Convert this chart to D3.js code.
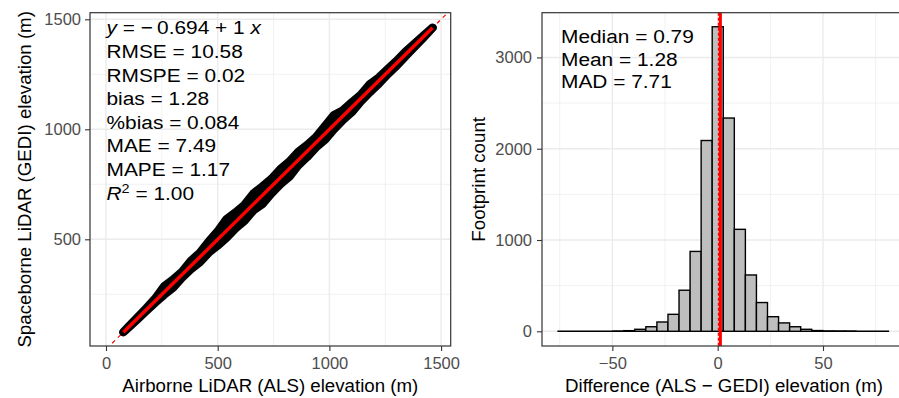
<!DOCTYPE html>
<html>
<head>
<meta charset="utf-8">
<script src="https://cdn.jsdelivr.net/npm/d3@7"></script>
<style>
body { margin: 0; background: #fff; }
svg { font-family: "Liberation Sans", Arial, sans-serif; }
</style>
</head>
<body>
<svg id="chart" width="899" height="398"></svg>
<script>
// ---- scatter: ALS vs GEDI elevation (m) ----
// the cloud is dense, so it is kept as its envelope: GEDI spread around ALS
const alsElev  = [78, 100, 140, 180, 220, 260, 300, 340, 380, 420, 460, 500, 540, 580, 620, 660, 700, 740, 780, 820, 860, 900, 940, 980, 1020, 1060, 1100, 1140, 1180, 1220, 1260, 1300, 1340, 1380, 1420, 1462];
const residHi  = [0, 2, 4, 6, 10, 26, 16, 12, 22, 18, 30, 36, 52, 42, 36, 48, 40, 34, 38, 32, 36, 28, 24, 34, 44, 26, 22, 16, 24, 14, 12, 10, 12, 8, 4, 0];
const residLo  = [0, -2, -4, -6, -8, -12, -20, -14, -16, -24, -20, -28, -32, -30, -36, -28, -40, -32, -30, -36, -24, -26, -22, -28, -20, -18, -22, -14, -12, -14, -10, -12, -8, -6, -4, 0];
const fitIntercept = -0.694, fitSlope = 1;
const fitStats = ["RMSE = 10.58", "RMSPE = 0.02", "bias = 1.28", "%bias = 0.084", "MAE = 7.49", "MAPE = 1.17"];
const scatterTicks = [0, 500, 1000, 1500];
const scatterMinor = [250, 750, 1250];

// ---- histogram of ALS - GEDI differences ----
const binStart = -76.1, binWidth = 5.25;
const binCounts = [0, 0, 0, 0, 0, 1, 7, 22, 50, 102, 186, 450, 875, 2090, 3336, 2336, 1117, 617, 315, 160, 92, 50, 22, 8, 3, 2, 1, 0, 0, 0];
const diffMedian = 0.79, diffMean = 1.28, diffMAD = 7.71;
const histXTicks = [-50, 0, 50];
const histXMinor = [-75, -25, 25, 75];
const histYTicks = [0, 1000, 2000, 3000];
const histYMinor = [500, 1500, 2500];

const svg = d3.select("#chart");
const gridCol = "#EBEBEB", axisCol = "#333333", tickTextCol = "#4D4D4D";

function inDomain(scale, v){
	let d = scale.domain();
	return v >= Math.min(d[0], d[1]) && v <= Math.max(d[0], d[1]);
}

function draw_grid(g, x, y, xMaj, xMin, yMaj, yMin){
	let r = { x0: x.range()[0], x1: x.range()[1], y0: y.range()[1], y1: y.range()[0] };
	let lines = [];
	xMin.filter(v => inDomain(x, v)).forEach(v => lines.push({ x1: x(v), x2: x(v), y1: r.y0, y2: r.y1, w: 0.7 }));
	yMin.filter(v => inDomain(y, v)).forEach(v => lines.push({ x1: r.x0, x2: r.x1, y1: y(v), y2: y(v), w: 0.7 }));
	xMaj.filter(v => inDomain(x, v)).forEach(v => lines.push({ x1: x(v), x2: x(v), y1: r.y0, y2: r.y1, w: 1.4 }));
	yMaj.filter(v => inDomain(y, v)).forEach(v => lines.push({ x1: r.x0, x2: r.x1, y1: y(v), y2: y(v), w: 1.4 }));
	g.selectAll("line.grid").data(lines).enter().append("line")
		.attr("class", "grid")
		.attr("x1", d => d.x1).attr("x2", d => d.x2)
		.attr("y1", d => d.y1).attr("y2", d => d.y2)
		.attr("stroke", gridCol).attr("stroke-width", d => d.w);
}

function draw_axes(x, y, xTicks, yTicks, yPad){
	let bottom = y.range()[0];
	let left = x.range()[0];
	let gx = svg.append("g").attr("transform", `translate(0,${bottom})`)
		.call(d3.axisBottom(x).tickValues(xTicks.filter(v => inDomain(x, v))).tickSize(5).tickPadding(6));
	let gy = svg.append("g").attr("transform", `translate(${left},0)`)
		.call(d3.axisLeft(y).tickValues(yTicks.filter(v => inDomain(y, v))).tickSize(5).tickPadding(yPad).tickFormat(d3.format("d")));
	[gx, gy].forEach(g => {
		g.select(".domain").remove();
		g.selectAll(".tick line").attr("stroke", axisCol).attr("stroke-width", 1.1);
		g.selectAll(".tick text").attr("fill", tickTextCol).style("font-size", "16.5px").style("font-family", "inherit");
	});
	// minus sign like R prints it
	gx.selectAll(".tick text").text(d => d < 0 ? "\u2212" + Math.abs(d) : d);
}

function draw_border(x, y){
	let x0 = x.range()[0], x1 = x.range()[1], y0 = y.range()[1], y1 = y.range()[0];
	svg.append("rect").attr("x", x0).attr("y", y0)
		.attr("width", x1 - x0).attr("height", y1 - y0)
		.attr("fill", "none").attr("stroke", axisCol).attr("stroke-width", 1.2);
}

function add_clip(id, x, y){
	svg.append("clipPath").attr("id", id).append("rect")
		.attr("x", x.range()[0]).attr("y", y.range()[1])
		.attr("width", x.range()[1] - x.range()[0])
		.attr("height", y.range()[0] - y.range()[1]);
}

function stat_line(g, px, py, parts){
	let t = g.append("text")
		.attr("transform", `translate(${px},${py}) scale(1.11,1)`)
		.style("font-size", "18.8px").attr("fill", "#000");
	parts.forEach(p => {
		let s = t.append("tspan").text(p.t);
		if (p.it) s.style("font-style", "italic");
		if (p.sup) s.attr("dy", -7).style("font-size", "13px");
		if (p.back) s.attr("dy", 7);
	});
}

// ================= left panel =================
let xS = d3.scaleLinear().domain([-71.6, 1543]).range([90, 450.7]);
let yS = d3.scaleLinear().domain([15, 1530]).range([346, 12.7]);
add_clip("clipL", xS, yS);

let gL = svg.append("g");
draw_grid(gL, xS, yS, scatterTicks, scatterMinor, scatterTicks, scatterMinor);

let plotL = gL.append("g").attr("clip-path", "url(#clipL)");

// 1:1 line
plotL.append("line")
	.attr("x1", xS(-100)).attr("y1", yS(-100))
	.attr("x2", xS(1600)).attr("y2", yS(1600))
	.attr("stroke", "red").attr("stroke-width", 1.2).attr("stroke-dasharray", "4,4");

let band = alsElev.map((a, i) => ({ als: a, hi: a + residHi[i], lo: a + residLo[i] }));
let bandArea = d3.area()
	.x(d => xS(d.als))
	.y0(d => yS(d.lo))
	.y1(d => yS(d.hi));
plotL.append("path").datum(band)
	.attr("d", bandArea)
	.attr("fill", "#000").attr("stroke", "#000")
	.attr("stroke-width", 8.5).attr("stroke-linejoin", "round");

// fitted line over the points
let xMin = d3.min(alsElev), xMax = d3.max(alsElev);
plotL.append("line")
	.attr("x1", xS(xMin)).attr("y1", yS(fitIntercept + fitSlope * xMin))
	.attr("x2", xS(xMax)).attr("y2", yS(fitIntercept + fitSlope * xMax))
	.attr("stroke", "red").attr("stroke-width", 3.4);

draw_border(xS, yS);
draw_axes(xS, yS, scatterTicks, scatterTicks, 4);

// stats text
let txtL = svg.append("g");
let lineStep = 23.6, txtX = 106.5, txtY = 34.3;
stat_line(txtL, txtX, txtY, [{ t: "y", it: true }, { t: " = \u2212\u20090.694 + 1 " }, { t: "x", it: true }]);
fitStats.forEach((s, i) => stat_line(txtL, txtX, txtY + lineStep * (i + 1), [{ t: s }]));
stat_line(txtL, txtX, txtY + lineStep * 7, [{ t: "R", it: true }, { t: "2", sup: true }, { t: " = 1.00", back: true }]);

svg.append("text")
	.attr("x", (xS.range()[0] + xS.range()[1]) / 2).attr("y", 391.5)
	.attr("text-anchor", "middle").style("font-size", "18.7px")
	.text("Airborne LiDAR (ALS) elevation (m)");
svg.append("text")
	.attr("transform", `translate(30.5,${(yS.range()[0] + yS.range()[1]) / 2}) rotate(-90)`)
	.attr("text-anchor", "middle").style("font-size", "18.7px")
	.text("Spaceborne LiDAR (GEDI) elevation (m)");

// ================= right panel =================
let xH = d3.scaleLinear().domain([-83.4, 89.4]).range([542, 906]);
let yH = d3.scaleLinear().domain([-161, 3490]).range([346, 12.7]);
add_clip("clipR", xH, yH);

let gR = svg.append("g");
draw_grid(gR, xH, yH, histXTicks, histXMinor, histYTicks, histYMinor);

let plotR = gR.append("g").attr("clip-path", "url(#clipR)");
let bins = binCounts.map((c, i) => ({ x0: binStart + i * binWidth, x1: binStart + (i + 1) * binWidth, n: c }));

// empty bins still show as a flat outline along zero
plotR.append("line")
	.attr("x1", xH(bins[0].x0)).attr("x2", xH(bins[bins.length - 1].x1))
	.attr("y1", yH(0)).attr("y2", yH(0))
	.attr("stroke", "#000").attr("stroke-width", 1.4);

plotR.selectAll("rect.bar").data(bins.filter(d => d.n > 0)).enter().append("rect")
	.attr("class", "bar")
	.attr("x", d => xH(d.x0))
	.attr("width", d => xH(d.x1) - xH(d.x0))
	.attr("y", d => yH(d.n))
	.attr("height", d => yH(0) - yH(d.n))
	.attr("fill", "#BEBEBE").attr("stroke", "#000").attr("stroke-width", 1.4);

plotR.append("line")
	.attr("x1", xH(diffMean)).attr("x2", xH(diffMean))
	.attr("y1", yH.range()[1]).attr("y2", yH.range()[0])
	.attr("stroke", "red").attr("stroke-width", 3);
plotR.append("line")
	.attr("x1", xH(diffMedian)).attr("x2", xH(diffMedian))
	.attr("y1", yH.range()[1]).attr("y2", yH.range()[0])
	.attr("stroke", "red").attr("stroke-width", 3).attr("stroke-dasharray", "3,2");

draw_border(xH, yH);
draw_axes(xH, yH, histXTicks, histYTicks, 5);

let txtR = svg.append("g");
let rStep = 22.8, rX = 561, rY = 42.7;
stat_line(txtR, rX, rY, [{ t: "Median = " + diffMedian.toFixed(2) }]);
stat_line(txtR, rX, rY + rStep, [{ t: "Mean = " + diffMean.toFixed(2) }]);
stat_line(txtR, rX, rY + rStep * 2, [{ t: "MAD = " + diffMAD.toFixed(2) }]);

svg.append("text")
	.attr("x", (xH.range()[0] + xH.range()[1]) / 2).attr("y", 391.5)
	.attr("text-anchor", "middle").style("font-size", "18.7px")
	.text("Difference (ALS \u2212 GEDI) elevation (m)");
svg.append("text")
	.attr("transform", `translate(485,${(yH.range()[0] + yH.range()[1]) / 2}) rotate(-90)`)
	.attr("text-anchor", "middle").style("font-size", "18.7px")
	.text("Footprint count");
</script>
</body>
</html>
